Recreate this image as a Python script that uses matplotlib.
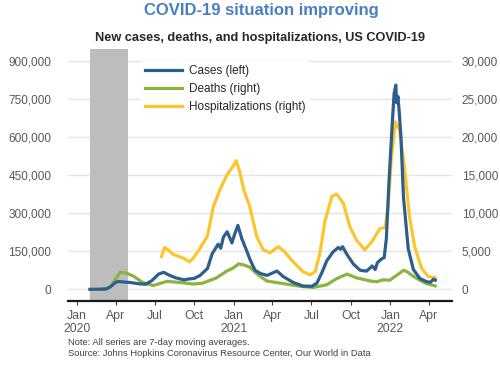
import numpy as np
import pandas as pd
import matplotlib
matplotlib.use("Agg")
import matplotlib.pyplot as plt
from matplotlib.ticker import FuncFormatter

plt.rcParams['font.family'] = ['Liberation Sans', 'DejaVu Sans']

# 7-day averages
case_dates = ["2020-02-01", "2020-03-10", "2020-03-20", "2020-04-01", "2020-04-08", "2020-04-20",
              "2020-05-05", "2020-05-25", "2020-06-10", "2020-06-25", "2020-07-10", "2020-07-22",
              "2020-08-05", "2020-08-20", "2020-09-08", "2020-09-15", "2020-10-01", "2020-10-15",
              "2020-11-01", "2020-11-12", "2020-11-26", "2020-12-02", "2020-12-08", "2020-12-17",
              "2020-12-28", "2021-01-03", "2021-01-11", "2021-01-20", "2021-02-01", "2021-02-08",
              "2021-02-20", "2021-03-05", "2021-03-20", "2021-04-12", "2021-04-27", "2021-05-20",
              "2021-06-12", "2021-07-02", "2021-07-14", "2021-07-25", "2021-08-06", "2021-08-21",
              "2021-09-02", "2021-09-07", "2021-09-12", "2021-09-22", "2021-10-07", "2021-10-23",
              "2021-11-07", "2021-11-20", "2021-11-27", "2021-12-02", "2021-12-12", "2021-12-18",
              "2021-12-23", "2021-12-29", "2022-01-06", "2022-01-10", "2022-01-14", "2022-01-16",
              "2022-01-19", "2022-01-22", "2022-01-26", "2022-02-01", "2022-02-12", "2022-02-24",
              "2022-03-11", "2022-03-27", "2022-04-05", "2022-04-12", "2022-04-16"]
cases = [0, 1, 10, 28, 31, 29,
         27, 22, 20, 35, 60, 67,
         55, 45, 37, 40, 43, 55,
         82, 140, 178, 162, 205, 227,
         183, 215, 252, 200, 150, 118,
         75, 62, 55, 72, 50, 27,
         13, 12, 24, 63, 112, 148,
         165, 158, 168, 138, 100, 75,
         72, 92, 78, 105, 120, 125,
         200, 420, 660, 770, 805, 735,
         760, 700, 600, 360, 160, 78,
         43, 30, 28, 40, 36]

hosp_dates = ["2020-07-17", "2020-07-24", "2020-07-30", "2020-08-13", "2020-09-06", "2020-09-20",
              "2020-09-29", "2020-10-15", "2020-11-01", "2020-11-15", "2020-12-01", "2020-12-16",
              "2020-12-31", "2021-01-07", "2021-01-15", "2021-01-25", "2021-02-08", "2021-02-24",
              "2021-03-11", "2021-03-27", "2021-04-15", "2021-04-27", "2021-05-20", "2021-06-12",
              "2021-06-28", "2021-07-10", "2021-07-21", "2021-08-02", "2021-08-18", "2021-08-29",
              "2021-09-14", "2021-09-29", "2021-10-15", "2021-11-03", "2021-11-20", "2021-12-08",
              "2021-12-20", "2021-12-27", "2022-01-04", "2022-01-13", "2022-01-23", "2022-02-04",
              "2022-02-15", "2022-02-27", "2022-03-15", "2022-03-30", "2022-04-16"]
hosp = [4.3, 5.5, 5.3, 4.6, 4.1, 3.6,
        4.1, 5.4, 7.0, 10.9, 13.2, 15.0,
        16.2, 16.9, 15.5, 13.0, 10.8, 6.9,
        5.2, 4.8, 5.6, 5.1, 3.6, 2.3,
        1.9, 2.3, 4.7, 9.0, 12.2, 12.5,
        11.3, 8.2, 6.4, 5.2, 6.3, 8.0,
        8.1, 10.9, 17.4, 22.0, 20.9, 15.6,
        9.5, 5.6, 2.8, 1.7, 1.5]

death_dates = ["2020-03-01", "2020-03-20", "2020-03-30", "2020-04-11", "2020-04-23", "2020-05-12",
               "2020-06-03", "2020-06-28", "2020-07-29", "2020-08-29", "2020-09-29", "2020-10-20",
               "2020-11-22", "2020-12-16", "2020-12-31", "2021-01-13", "2021-01-25", "2021-02-08",
               "2021-02-27", "2021-03-19", "2021-04-27", "2021-06-05", "2021-07-06", "2021-08-06",
               "2021-08-29", "2021-09-22", "2021-10-15", "2021-11-15", "2021-12-01", "2021-12-15",
               "2021-12-31", "2022-01-15", "2022-02-01", "2022-02-10", "2022-02-24", "2022-03-11",
               "2022-03-27", "2022-04-16"]
deaths = [0, 0.3, 1.2, 2.2, 2.2, 1.75,
          0.9, 0.5, 1.05, 0.9, 0.7, 0.8,
          1.5, 2.4, 2.8, 3.35, 3.2, 2.9,
          1.9, 1.1, 0.75, 0.4, 0.25, 0.6,
          1.4, 2.0, 1.5, 1.1, 1.0, 1.25,
          1.2, 1.8, 2.5, 2.3, 1.7, 1.2,
          0.75, 0.45]

recession = ("2020-02-01", "2020-04-30")
tick_dates = pd.date_range("2020-01-01", "2022-04-01", freq="QS")
month_labels = ["Jan", "Apr", "Jul", "Oct", "Jan", "Apr", "Jul", "Oct", "Jan", "Apr"]
year_dates = pd.to_datetime(["2020-01-01", "2021-01-01", "2022-01-01"])
year_labels = ["2020", "2021", "2022"]

blue = '#2c5f8e'
green = '#8ab43e'
yellow = '#fdc52d'
grey_txt = '#595959'

fig = plt.figure(figsize=(5, 3.65), dpi=100)
# base axes: right scale, grid, shading, x axis; twin on top: cases on left scale
ax2 = fig.add_axes([0.136, 0.176, 0.768, 0.689])
ax = ax2.twinx()
ax.yaxis.tick_left()
ax2.yaxis.tick_right()
ax.set_zorder(ax2.get_zorder() + 1)
ax.patch.set_visible(False)

ax2.set_axisbelow(True)
ax2.grid(axis='y', color='#e5e5e5', linewidth=1)
ax2.axvspan(pd.Timestamp(recession[0]), pd.Timestamp(recession[1]), color='#bdbdbd', lw=0, zorder=1)

h_hosp, = ax2.plot(pd.to_datetime(hosp_dates), np.array(hosp) * 1000, color=yellow, lw=2.3,
                   label='Hospitalizations (right)')
h_death, = ax2.plot(pd.to_datetime(death_dates), np.array(deaths) * 1000, color=green, lw=2.3,
                    label='Deaths (right)')
h_case, = ax.plot(pd.to_datetime(case_dates), np.array(cases) * 1000, color=blue, lw=2.3,
                  label='Cases (left)')

ax.set_ylim(-45000, 946000)
ax2.set_ylim(-1500, 31533)
ax.set_yticks(np.arange(0, 900001, 150000))
ax2.set_yticks(np.arange(0, 30001, 5000))
fmt = FuncFormatter(lambda v, p: f"{int(v):,}")
ax.yaxis.set_major_formatter(fmt)
ax2.yaxis.set_major_formatter(fmt)
ax.tick_params(axis='y', length=0, pad=12, labelsize=8.5, labelcolor=grey_txt)
ax2.tick_params(axis='y', length=0, pad=7, labelsize=8.5, labelcolor=grey_txt)

# months on major ticks, years underneath on minor ticks
ax2.set_xlim(pd.Timestamp("2019-12-12"), pd.Timestamp("2022-05-25"))
ax2.xaxis.remove_overlapping_locs = False
ax2.set_xticks(tick_dates)
ax2.set_xticklabels(month_labels)
ax2.set_xticks(year_dates, minor=True)
ax2.set_xticklabels(year_labels, minor=True)
ax2.tick_params(axis='x', which='major', length=3, width=0.8, color='#404040', pad=3.3,
                labelsize=8.8, labelcolor=grey_txt)
ax2.tick_params(axis='x', which='minor', length=0, pad=15.8, labelsize=8.8, labelcolor=grey_txt)

for a in (ax, ax2):
    for s in ['top', 'left', 'right']:
        a.spines[s].set_visible(False)
ax.spines['bottom'].set_visible(False)
ax2.spines['bottom'].set_linewidth(1.6)
ax2.spines['bottom'].set_color('#1a1a1a')

leg = ax.legend(handles=[h_case, h_death, h_hosp], loc='upper left', bbox_to_anchor=(0.19, 0.952),
                frameon=True, fontsize=8.5, handlelength=3.2, handletextpad=0.6,
                labelspacing=0.5, borderpad=0.3, borderaxespad=0)
leg.get_frame().set_facecolor('white')
leg.get_frame().set_edgecolor('none')
leg.get_frame().set_alpha(1)
for t in leg.get_texts():
    t.set_color('#262626')

fig.text(0.522, 0.97, "COVID-19 situation improving", ha='center', va='center',
         fontsize=12, fontweight='bold', color='#4a7ec2')
fig.text(0.52, 0.895, "New cases, deaths, and hospitalizations, US COVID-19", ha='center', va='center',
         fontsize=9.2, fontweight='bold', color='#262626')
fig.text(0.136, 0.046, "Note: All series are 7-day moving averages.\n"
         "Source: Johns Hopkins Coronavirus Resource Center, Our World in Data",
         ha='left', va='center', fontsize=6.75, color='#404040', linespacing=1.25)

fig.savefig("out.png", dpi=100)
